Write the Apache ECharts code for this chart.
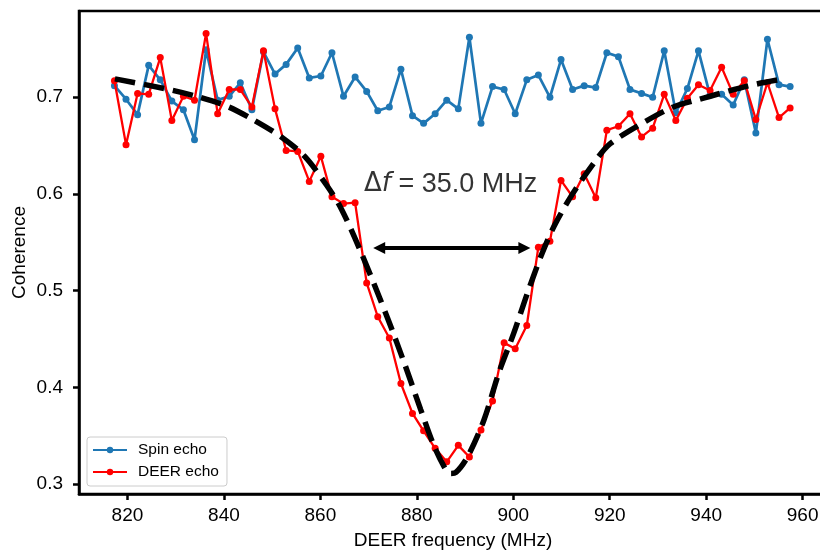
<!DOCTYPE html>
<html><head><meta charset="utf-8">
<script src="https://cdn.jsdelivr.net/npm/echarts@6/dist/echarts.min.js"></script>
<style>html,body{margin:0;padding:0;background:#fff}#c{width:820px;height:552px}</style>
</head><body><div id="c"></div>
<script>
const freq = [817.3, 819.7, 822.1, 824.4, 826.8, 829.2, 831.6, 833.9, 836.3, 838.7,
  841.1, 843.4, 845.8, 848.2, 850.6, 852.9, 855.3, 857.7, 860.1, 862.4,
  864.8, 867.2, 869.6, 871.9, 874.3, 876.7, 879.1, 881.4, 883.8, 886.2,
  888.6, 890.9, 893.3, 895.7, 898.1, 900.4, 902.8, 905.2, 907.6, 909.9,
  912.3, 914.7, 917.1, 919.4, 921.8, 924.2, 926.6, 928.9, 931.3, 933.7,
  936.1, 938.4, 940.8, 943.2, 945.6, 947.9, 950.3, 952.7, 955.1, 957.4];
const spinEcho = [0.712, 0.698, 0.682, 0.733, 0.718, 0.696, 0.687, 0.656, 0.749, 0.697,
  0.701, 0.715, 0.687, 0.747, 0.724, 0.734, 0.751, 0.720, 0.722, 0.746,
  0.701, 0.721, 0.706, 0.686, 0.690, 0.729, 0.681, 0.673, 0.683, 0.697,
  0.688, 0.762, 0.673, 0.711, 0.708, 0.683, 0.718, 0.723, 0.700, 0.739,
  0.708, 0.712, 0.710, 0.746, 0.742, 0.708, 0.704, 0.700, 0.748, 0.684,
  0.709, 0.748, 0.702, 0.703, 0.692, 0.718, 0.663, 0.760, 0.713, 0.711];
const deerEcho = [0.717, 0.651, 0.704, 0.703, 0.741, 0.676, 0.701, 0.697, 0.766, 0.683,
  0.708, 0.708, 0.690, 0.748, 0.688, 0.645, 0.644, 0.613, 0.639, 0.597,
  0.590, 0.591, 0.508, 0.473, 0.451, 0.404, 0.373, 0.355, 0.337, 0.323,
  0.340, 0.328, 0.356, 0.386, 0.446, 0.440, 0.464, 0.545, 0.551, 0.614,
  0.597, 0.621, 0.596, 0.666, 0.670, 0.683, 0.659, 0.668, 0.703, 0.676,
  0.699, 0.713, 0.707, 0.731, 0.703, 0.717, 0.677, 0.715, 0.679, 0.689];
const fitFreq = [817.4, 827.7, 834.3, 840.5, 846.0, 851.9, 856.7, 861.3, 864.3, 868.4,
  873.9, 877.7, 880.8, 883.6, 886.0, 887.0, 888.1, 890.5, 893.9, 897.0,
  900.1, 902.9, 906.0, 908.4, 911.9, 916.7, 920.1, 927.4, 933.2, 938.7,
  942.9, 949.8, 956.1];
const fitVal = [0.719, 0.709, 0.701, 0.691, 0.677, 0.659, 0.639, 0.609, 0.585, 0.540,
  0.472, 0.421, 0.377, 0.339, 0.315, 0.311, 0.312, 0.328, 0.366, 0.415,
  0.456, 0.497, 0.539, 0.566, 0.597, 0.632, 0.652, 0.675, 0.690, 0.698,
  0.704, 0.713, 0.719];
const xTicks = [820, 840, 860, 880, 900, 920, 940, 960];
const yTicks = [0.3, 0.4, 0.5, 0.6, 0.7];
const arrowFreq = [872.2, 902.3];
const arrowLevel = 0.544;
const annotPos = [887.0, 0.610];
const annotText = '35.0 MHz';
const seriesNames = ['Spin echo', 'DEER echo'];

const font = '"Liberation Sans", Arial, Helvetica, sans-serif';
const zip = (a, b) => a.map((v, i) => [v, b[i]]);

const chart = echarts.init(document.getElementById('c'), null, {renderer: 'canvas'});
const axisCommon = {
  type: 'value',
  nameLocation: 'middle',
  nameMoveOverlap: false,
  nameTextStyle: {fontFamily: font, fontSize: 19, color: '#000'},
  axisLine: {show: true, onZero: false, lineStyle: {color: '#000', width: 2.5}},
  splitLine: {show: false}
};
chart.setOption({
  animation: false,
  backgroundColor: '#fff',
  grid: {left: 79, right: -7, top: 11, bottom: 58, show: true, borderColor: '#000', borderWidth: 2.5,
         backgroundColor: 'transparent', containLabel: false, outerBoundsMode: 'none'},
  legend: {
    data: seriesNames,
    orient: 'vertical', left: 87, top: 437,
    itemWidth: 34, itemHeight: 8, itemGap: 6,
    padding: [5, 8, 6, 5],
    borderColor: '#cccccc', borderWidth: 1, borderRadius: 3,
    backgroundColor: 'rgba(255,255,255,0.8)',
    textStyle: {fontFamily: font, fontSize: 15.5, color: '#000', padding: [0, 0, 0, 6]}
  },
  xAxis: Object.assign({}, axisCommon, {
    min: 809.95, max: 965.05,
    name: 'DEER frequency (MHz)', nameGap: 37,
    axisTick: {show: true, length: 6, lineStyle: {color: '#000', width: 2.5}, customValues: xTicks},
    axisLabel: {customValues: xTicks, fontFamily: font, fontSize: 19, color: '#000', margin: 12}
  }),
  yAxis: Object.assign({}, axisCommon, {
    min: 0.2897, max: 0.7892,
    name: 'Coherence', nameGap: 50, nameRotate: 90,
    axisTick: {show: true, length: 6, lineStyle: {color: '#000', width: 2.5}, customValues: yTicks},
    axisLabel: {customValues: yTicks, fontFamily: font, fontSize: 19, color: '#000', margin: 16,
                formatter: v => v.toFixed(1)}
  }),
  series: [
    {name: seriesNames[0], type: 'line', data: zip(freq, spinEcho), color: '#1f77b4',
     symbol: 'circle', symbolSize: 7, showSymbol: true,
     lineStyle: {width: 2.7, color: '#1f77b4'}, itemStyle: {color: '#1f77b4'}, z: 2},
    {name: seriesNames[1], type: 'line', data: zip(freq, deerEcho), color: '#ff0000',
     symbol: 'circle', symbolSize: 7, showSymbol: true,
     lineStyle: {width: 2.3, color: '#ff0000'}, itemStyle: {color: '#ff0000'}, z: 3},
    {name: 'fit', type: 'line', data: zip(fitFreq, fitVal), smooth: 0.3, showSymbol: false, symbol: 'none',
     lineStyle: {width: 5.5, color: '#000', type: [20.5, 9], cap: 'butt'}, z: 4, silent: true,
     markLine: {
       silent: true, symbol: ['triangle', 'triangle'], symbolSize: [12, 12],
       label: {show: false},
       lineStyle: {color: '#000', width: 4, type: 'solid'},
       data: [[{coord: [arrowFreq[0], arrowLevel]}, {coord: [arrowFreq[1], arrowLevel]}]]
     }},
    {name: 'annot', type: 'scatter', data: [annotPos], symbolSize: 0, silent: true, z: 5,
     label: {show: true, position: 'inside', color: '#000', textBorderWidth: 0,
       formatter: '{d|Δ}{f|f}{t| = ' + annotText + '}',
       rich: {
         d: {fontFamily: '"DejaVu Sans"', fontSize: 26, color: '#000'},
         f: {fontFamily: '"DejaVu Sans"', fontStyle: 'italic', fontSize: 26, color: '#000'},
         t: {fontFamily: font, fontSize: 27, color: '#000'}
       }}}
  ]
});
</script></body></html>
